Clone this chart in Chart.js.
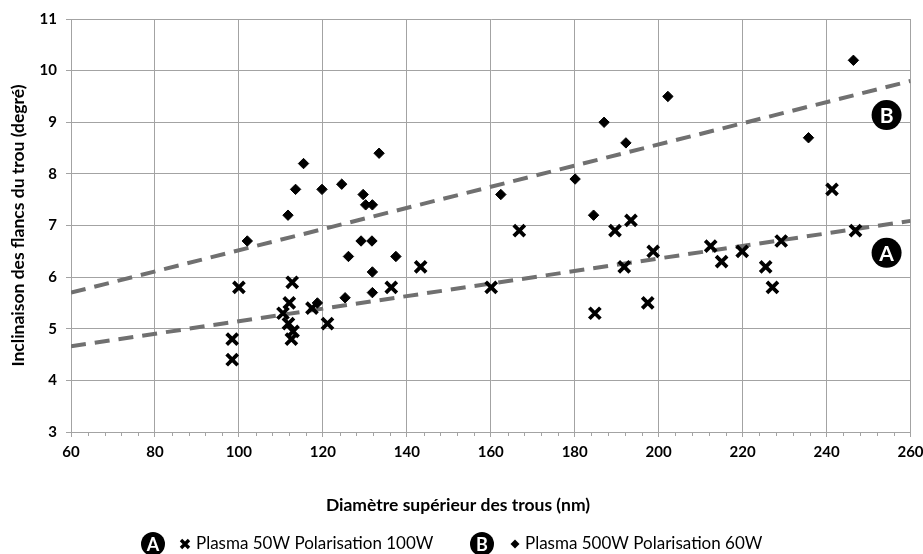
<!DOCTYPE html>
<html>
<head>
<meta charset="utf-8">
<script src="https://cdn.jsdelivr.net/npm/chart.js@4.4.1/dist/chart.umd.min.js"></script>
<style>
  html, body { margin: 0; padding: 0; background: #fff; }
  #wrap { width: 923px; height: 554px; position: relative; }
</style>
</head>
<body>
<div id="wrap"><canvas id="c" width="923" height="554"></canvas></div>
<script>
// ---- Data ----
const labelA = "Plasma 50W Polarisation 100W";
const labelB = "Plasma 500W Polarisation 60W";

const seriesAx = [98.4, 98.4, 100.0, 112.7, 112.0, 110.5, 111.8, 112.9, 112.5, 117.4, 121.1, 136.3, 143.3, 160.1, 166.8, 184.8, 189.6, 193.4, 191.8, 198.7, 197.4, 212.4, 215.0, 219.9, 225.5, 227.1, 229.2, 241.3, 246.9];
const seriesAy = [4.8, 4.4, 5.8, 5.9, 5.5, 5.3, 5.1, 4.95, 4.8, 5.4, 5.1, 5.8, 6.2, 5.8, 6.9, 5.3, 6.9, 7.1, 6.2, 6.5, 5.5, 6.6, 6.3, 6.5, 6.2, 5.8, 6.7, 7.7, 6.9];

const seriesBx = [102.0, 111.7, 113.5, 115.4, 119.8, 124.5, 126.1, 125.3, 118.7, 129.6, 130.2, 131.8, 133.4, 129.1, 131.7, 137.4, 131.8, 131.8, 162.4, 180.1, 184.5, 187.0, 192.2, 202.2, 235.7, 246.4];
const seriesBy = [6.7, 7.2, 7.7, 8.2, 7.7, 7.8, 6.4, 5.6, 5.5, 7.6, 7.4, 7.4, 8.4, 6.7, 6.7, 6.4, 6.1, 5.7, 7.6, 7.9, 7.2, 9.0, 8.6, 9.5, 8.7, 10.2];

// Linear trend lines (end points)
const trendAx = [60, 260];
const trendAy = [4.66, 7.09];
const trendBx = [60, 260];
const trendBy = [5.70, 9.80];

const xTickMin = 60, xTickMax = 260, xTickStep = 20, xMinorStep = 4;
const yTickMin = 3, yTickMax = 11, yTickStep = 1;

const xTitle = "Diamètre supérieur des trous (nm)";
const yTitle = "Inclinaison des flancs du trou (degré)";
const tagA = "A", tagB = "B";

function pts(xs, ys) { return xs.map((x, i) => ({ x: x, y: ys[i] })); }

const FONT = "Lato, 'Open Sans', sans-serif";
const GRID = "#a3a3a3";

// Minor ticks on the x axis + x axis title
const minorTicks = {
  id: 'minorTicks',
  afterDraw(chart) {
    const ctx = chart.ctx, xs = chart.scales.x, b = chart.chartArea.bottom;
    ctx.save();
    ctx.strokeStyle = GRID; ctx.lineWidth = 1;
    for (let v = xTickMin; v <= xTickMax; v += xMinorStep) {
      if (v % xTickStep === 0) continue;
      const px = Math.round(xs.getPixelForValue(v)) + 0.5;
      ctx.beginPath(); ctx.moveTo(px, b); ctx.lineTo(px, b + 4); ctx.stroke();
    }
    ctx.fillStyle = '#000';
    ctx.font = 'bold 17.5px ' + FONT;
    ctx.textAlign = 'center'; ctx.textBaseline = 'middle';
    ctx.fillText(xTitle, 458, 505);
    ctx.restore();
  }
};

function badge(ctx, x, y, r, letter, fs) {
  ctx.save();
  ctx.fillStyle = '#000';
  ctx.beginPath(); ctx.arc(x, y, r, 0, Math.PI * 2); ctx.fill();
  ctx.fillStyle = '#fff';
  ctx.font = 'bold ' + fs + 'px ' + FONT;
  ctx.textAlign = 'center'; ctx.textBaseline = 'middle';
  ctx.fillText(letter, x, y + 1);
  ctx.restore();
}

function drawX(ctx, x, y, h, w) {
  ctx.save();
  ctx.strokeStyle = '#000'; ctx.lineWidth = w;
  ctx.beginPath();
  ctx.moveTo(x - h, y - h); ctx.lineTo(x + h, y + h);
  ctx.moveTo(x + h, y - h); ctx.lineTo(x - h, y + h);
  ctx.stroke();
  ctx.restore();
}
function drawDiamond(ctx, x, y, h) {
  ctx.save();
  ctx.fillStyle = '#000';
  ctx.beginPath();
  ctx.moveTo(x, y - h); ctx.lineTo(x + h, y); ctx.lineTo(x, y + h); ctx.lineTo(x - h, y);
  ctx.closePath(); ctx.fill();
  ctx.restore();
}

// Tags in plot + custom legend
const annot = {
  id: 'annot',
  afterDraw(chart) {
    const ctx = chart.ctx, xs = chart.scales.x, ys = chart.scales.y;
    const tx = xs.getPixelForValue(254.3);
    badge(ctx, tx, ys.getPixelForValue(9.14), 15, tagB, 21);
    badge(ctx, tx, ys.getPixelForValue(6.47), 15, tagA, 21);

    const ly = 544;
    badge(ctx, 153, ly, 12, tagA, 18);
    drawX(ctx, 185, ly, 4, 3.4);
    ctx.save();
    ctx.font = '17px ' + FONT; ctx.fillStyle = '#000';
    ctx.textBaseline = 'middle'; ctx.textAlign = 'left';
    ctx.fillText(labelA, 196, ly);
    ctx.restore();
    badge(ctx, 482, ly, 12, tagB, 18);
    drawDiamond(ctx, 515, ly, 4.5);
    ctx.save();
    ctx.font = '17px ' + FONT; ctx.fillStyle = '#000';
    ctx.textBaseline = 'middle'; ctx.textAlign = 'left';
    ctx.fillText(labelB, 525, ly);
    ctx.restore();
  }
};

new Chart(document.getElementById('c'), {
  type: 'scatter',
  data: {
    datasets: [
      {
        label: labelA, data: pts(seriesAx, seriesAy),
        pointStyle: 'crossRot', radius: 7.8, borderWidth: 3.8,
        borderColor: '#000', backgroundColor: '#000', order: 1
      },
      {
        label: labelB, data: pts(seriesBx, seriesBy),
        pointStyle: 'rectRot', radius: 5.2, borderWidth: 1,
        borderColor: '#000', backgroundColor: '#000', order: 1
      },
      {
        label: 'trendA', data: pts(trendAx, trendAy), type: 'line', showLine: true,
        borderColor: '#707070', borderWidth: 4, borderDash: [15, 9], pointRadius: 0,
        fill: false, order: 2
      },
      {
        label: 'trendB', data: pts(trendBx, trendBy), type: 'line', showLine: true,
        borderColor: '#707070', borderWidth: 4, borderDash: [15, 9], pointRadius: 0,
        fill: false, order: 2
      }
    ]
  },
  options: {
    responsive: false,
    animation: false,
    layout: { padding: { top: 19, right: 0, left: 0, bottom: 0 } },
    plugins: { legend: { display: false }, tooltip: { enabled: false } },
    scales: {
      x: {
        type: 'linear', min: xTickMin, max: xTickMax,
        ticks: { stepSize: xTickStep, color: '#000', padding: 6, font: { family: FONT, size: 15, weight: 'bold' } },
        grid: { color: GRID, tickLength: 5 },
        border: { color: GRID },
        title: { display: false },
        afterFit(s) { s.height = 122; s.paddingRight = 12.5; s.paddingLeft = 0; }
      },
      y: {
        type: 'linear', min: yTickMin, max: yTickMax,
        ticks: { stepSize: yTickStep, color: '#000', padding: 9, font: { family: FONT, size: 15, weight: 'bold' } },
        grid: { color: GRID, tickLength: 5 },
        border: { color: GRID },
        title: { display: true, text: yTitle, color: '#000', font: { family: FONT, size: 17.5, weight: 'bold' }, padding: { top: 8, bottom: 0 } },
        afterFit(s) { s.width = 71; }
      }
    }
  },
  plugins: [minorTicks, annot]
});
</script>
</body>
</html>
